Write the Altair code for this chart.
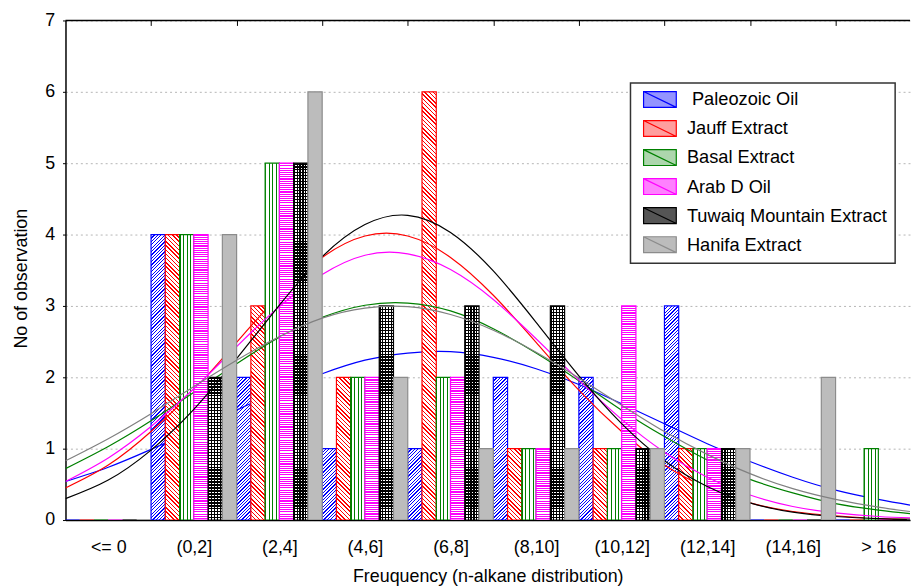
import json
import math
import altair as alt
import pandas as pd

# ------------------------------------------------------------------ data
categories = ["<= 0", "(0,2]", "(2,4]", "(4,6]", "(6,8]", "(8,10]",
              "(10,12]", "(12,14]", "(14,16]", "> 16"]
series_names = ["Paleozoic Oil", "Jauff Extract", "Basal Extract",
                "Arab D Oil", "Tuwaiq Mountain Extract", "Hanifa Extract"]

paleozoic_oil = [0, 4, 2, 1, 1, 2, 2, 3, 0, 0]
jauff_extract = [0, 4, 3, 2, 6, 1, 1, 1, 0, 0]
basal_extract = [0, 4, 5, 2, 2, 1, 1, 1, 0, 1]
arab_d_oil = [0, 4, 5, 2, 2, 1, 3, 1, 0, 0]
tuwaiq_mountain_extract = [0, 2, 5, 3, 3, 3, 1, 1, 0, 0]
hanifa_extract = [0, 4, 6, 2, 1, 1, 1, 1, 2, 0]

# fitted-curve samples (x in category units)
curve_x = [0, 0.5, 1, 1.5, 2, 2.5, 3, 3.5, 4, 4.5, 5, 5.5, 6, 6.5, 7,
           7.5, 8, 8.5, 9, 9.5, 9.87]
fit_paleozoic_oil = [0.54, 0.74, 0.99, 1.26, 1.54, 1.81, 2.05, 2.24, 2.34, 2.36,
                     2.28, 2.12, 1.90, 1.63, 1.35, 1.07, 0.82, 0.60, 0.42, 0.29, 0.21]
fit_jauff_extract = [0.45, 0.77, 1.24, 1.82, 2.49, 3.15, 3.68, 3.98, 3.98, 3.68,
                     3.15, 2.49, 1.82, 1.24, 0.77, 0.45, 0.24, 0.12, 0.06, 0.02, 0.01]
fit_basal_extract = [0.72, 1.03, 1.39, 1.79, 2.19, 2.56, 2.84, 3.01, 3.04, 2.93,
                     2.68, 2.34, 1.95, 1.54, 1.17, 0.84, 0.57, 0.38, 0.23, 0.14, 0.09]
fit_arab_d_oil = [0.54, 0.87, 1.31, 1.84, 2.43, 2.99, 3.44, 3.71, 3.73, 3.51,
                  3.09, 2.54, 1.96, 1.41, 0.95, 0.60, 0.35, 0.19, 0.10, 0.05, 0.03]
fit_tuwaiq_mountain_extract = [0.30, 0.56, 0.98, 1.55, 2.26, 3.01, 3.69, 4.14, 4.27, 4.03,
                               3.49, 2.77, 2.02, 1.35, 0.83, 0.47, 0.24, 0.11, 0.05, 0.02, 0.01]
fit_hanifa_extract = [0.83, 1.14, 1.49, 1.87, 2.24, 2.57, 2.83, 2.97, 2.99, 2.88,
                      2.66, 2.35, 1.99, 1.61, 1.24, 0.92, 0.65, 0.44, 0.29, 0.18, 0.12]

y_ticks = [0, 1, 2, 3, 4, 5, 6, 7]
x_label_positions = [i + 0.5 for i in range(len(categories))]
x_boundaries = list(range(1, len(categories)))

# legend entries as printed (the first one carries a leading space in the original)
legend_names = ["\u200b\u00a0" + series_names[0]] + series_names[1:]
legend_names = [s + "\u00a0" for s in legend_names]

# ------------------------------------------------------------------ styling
FONT = "Liberation Sans"
PLOT_W = 852
PLOT_H = 504
X_MAX = 9.87
line_colors = ["#0000ff", "#ff0000", "#008000", "#ff00ff", "#000000", "#808080"]
bar_strokes = ["#0000ff", "#ff0000", "#008000", "#ff00ff", "#000000", "#8c8c8c"]
legend_fills = ["#9494ff", "#ff9e9e", "#add6ad", "#ff80ff", "#555555", "#bcbcbc"]

counts = [paleozoic_oil, jauff_extract, basal_extract, arab_d_oil,
          tuwaiq_mountain_extract, hanifa_extract]
fits = [fit_paleozoic_oil, fit_jauff_extract, fit_basal_extract, fit_arab_d_oil,
        fit_tuwaiq_mountain_extract, fit_hanifa_extract]

n_series = len(series_names)
px_x = PLOT_W / X_MAX
px_y = PLOT_H / y_ticks[-1]
bar_w = px_x / n_series


def _stops(n, line, bg, frac):
    out = []
    for k in range(n):
        a = round(k / n, 5)
        b = round((k + frac) / n, 5)
        c = round((k + 1) / n, 5)
        out += [{"offset": a, "color": line}, {"offset": b, "color": line},
                {"offset": b, "color": bg}, {"offset": c, "color": bg}]
    return out


def vstripes(w, h, line, bg, period, frac):
    n = max(1, round(w / period))
    return {"gradient": "linear", "x1": 0, "y1": 0, "x2": 1, "y2": 0,
            "stops": _stops(n, line, bg, frac)}


def hstripes(w, h, line, bg, period, frac):
    n = max(1, round(h / period))
    return {"gradient": "linear", "x1": 0, "y1": 0, "x2": 0, "y2": 1,
            "stops": _stops(n, line, bg, frac)}


def diag(w, h, line, bg, period, frac, rising):
    k = (w + h) / (w * w + h * h)
    n = max(1, round((w + h) / (math.sqrt(2) * period)))
    if rising:
        return {"gradient": "linear", "x1": 0, "y1": 0, "x2": k * w, "y2": k * h,
                "stops": _stops(n, line, bg, frac)}
    return {"gradient": "linear", "x1": 0, "y1": 1, "x2": k * w, "y2": 1 - k * h,
            "stops": _stops(n, line, bg, frac)}


def bar_fills(j, value):
    h = value * px_y
    w = bar_w
    if value == 0:
        return "white", None
    if j == 0:
        return diag(w, h, "#0000ff", "#ffffff", 2.4, 0.36, True), None
    if j == 1:
        return diag(w, h, "#ff0000", "#ffffff", 3.0, 0.34, False), None
    if j == 2:
        return vstripes(w, h, "#008000", "#ffffff", 3.6, 0.3), None
    if j == 3:
        return hstripes(w, h, "#ff00ff", "#ffffff", 2.2, 0.5), None
    if j == 4:
        return (vstripes(w, h, "#000000", "#ffffff", 3.0, 0.45),
                hstripes(w, h, "#000000", "rgba(0,0,0,0)", 3.0, 0.45))
    return "#bcbcbc", None


def bar_records(j):
    recs = []
    for i, cat in enumerate(categories):
        v = counts[j][i]
        f1, f2 = bar_fills(j, v)
        rec = {"series": series_names[j], "category": cat, "count": v, "base": 0,
               "x0": i + j / n_series, "x1": i + (j + 1) / n_series, "fill": f1}
        if f2 is not None:
            rec["fill2"] = f2
        recs.append(rec)
    return recs


x_scale = alt.Scale(domain=[0, X_MAX], nice=False, zero=False)
y_scale = alt.Scale(domain=[y_ticks[0], y_ticks[-1]], nice=False, zero=True)

y_axis = alt.Axis(orient="left", values=y_ticks, title="No of observation", grid=True,
                  gridColor="#b4b4b4", gridDash=[2, 3],
                  tickSize=3, labelPadding=8, titlePadding=14.5, titleY=260,
                  domainWidth=1.5)
x_axis_bottom = alt.Axis(orient="bottom", values=x_label_positions,
                         labelExpr=json.dumps(categories) + "[floor(datum.value)]",
                         ticks=False, grid=False, labelPadding=18.5,
                         labelFlush=False, labelOverlap=False, labelBound=False,
                         title="Freuquency (n-alkane distribution)",
                         titlePadding=12, domainWidth=1.5)
x_axis_top = alt.Axis(orient="top", values=x_boundaries, labels=False, domain=False,
                      grid=False, ticks=True, tickSize=5, tickWidth=1, offset=-5,
                      title="")

layers = []

# top border of the frame; this layer also carries the bottom axis
frame_df = pd.DataFrame({"x_start": [0], "x_end": [X_MAX], "top": [y_ticks[-1]]})
frame = alt.Chart(frame_df).mark_rule(color="black", strokeWidth=1.5).encode(
    x=alt.X("x_start:Q", scale=x_scale, axis=x_axis_bottom),
    x2="x_end:Q",
    y=alt.Y("top:Q", scale=y_scale, axis=None),
)
layers.append(frame)

for j, name in enumerate(series_names):
    recs = bar_records(j)
    bars = alt.Chart(alt.Data(values=recs)).mark_bar(
        stroke=bar_strokes[j], strokeWidth=1.2, clip=True).encode(
        x=alt.X("x0:Q", scale=x_scale, axis=None),
        x2="x1:Q",
        y=alt.Y("count:Q", scale=y_scale, axis=y_axis if j == 0 else None),
        y2="base:Q",
        fill=alt.Fill("fill:N", scale=None),
    )
    layers.append(bars)
    recs2 = [r for r in recs if "fill2" in r]
    if recs2:
        bars2 = alt.Chart(alt.Data(values=recs2)).mark_bar(
            strokeWidth=0, clip=True).encode(
            x=alt.X("x0:Q", scale=x_scale, axis=None),
            x2="x1:Q",
            y=alt.Y("count:Q", scale=y_scale, axis=None),
            y2="base:Q",
            fill=alt.Fill("fill2:N", scale=None),
        )
        layers.append(bars2)
    curve_df = pd.DataFrame({"u": curve_x, "fit": fits[j]})
    curve = alt.Chart(curve_df).mark_line(
        color=line_colors[j], strokeWidth=1.2, interpolate="natural", clip=True).encode(
        x=alt.X("u:Q", scale=x_scale, axis=x_axis_top if j == 0 else None),
        y=alt.Y("fit:Q", scale=y_scale, axis=None),
    )
    layers.append(curve)

legend_symbol = "M-2,-0.97H2V0.97H-2Z M-2,-0.97L2,0.97"
leg = alt.Legend(orient="none", legendX=570, legendY=63, title=None,
                 symbolType=legend_symbol, symbolSize=272.25, symbolStrokeWidth=1.2,
                 symbolOpacity=1, symbolOffset=13, labelOffset=18, rowPadding=7.3,
                 labelFontSize=18.4, labelFont=FONT, labelColor="black", labelLimit=400,
                 padding=7.5, strokeColor="#333333", fillColor="white")

legend_layer = alt.Chart(pd.DataFrame({"series": legend_names})).mark_point(
    filled=True, opacity=0).encode(
    color=alt.Color("series:N", scale=alt.Scale(domain=legend_names, range=legend_fills),
                    legend=leg),
    stroke=alt.Stroke("series:N", scale=alt.Scale(domain=legend_names, range=bar_strokes),
                      legend=leg),
)
layers.append(legend_layer)

chart = alt.layer(*layers).resolve_axis(x="independent", y="independent").properties(
    width=PLOT_W, height=PLOT_H,
    padding={"left": 4, "top": 1, "right": 0, "bottom": 0},
).configure_view(strokeWidth=0).configure_axis(
    labelFont=FONT, titleFont=FONT, labelFontSize=18, titleFontSize=18,
    titleFontWeight="normal", labelColor="black", titleColor="black",
    domainColor="black", tickColor="black",
).configure_legend(strokeWidth=1.5, cornerRadius=0)

chart.save("out.html", embed_options={"renderer": "svg", "actions": False})
